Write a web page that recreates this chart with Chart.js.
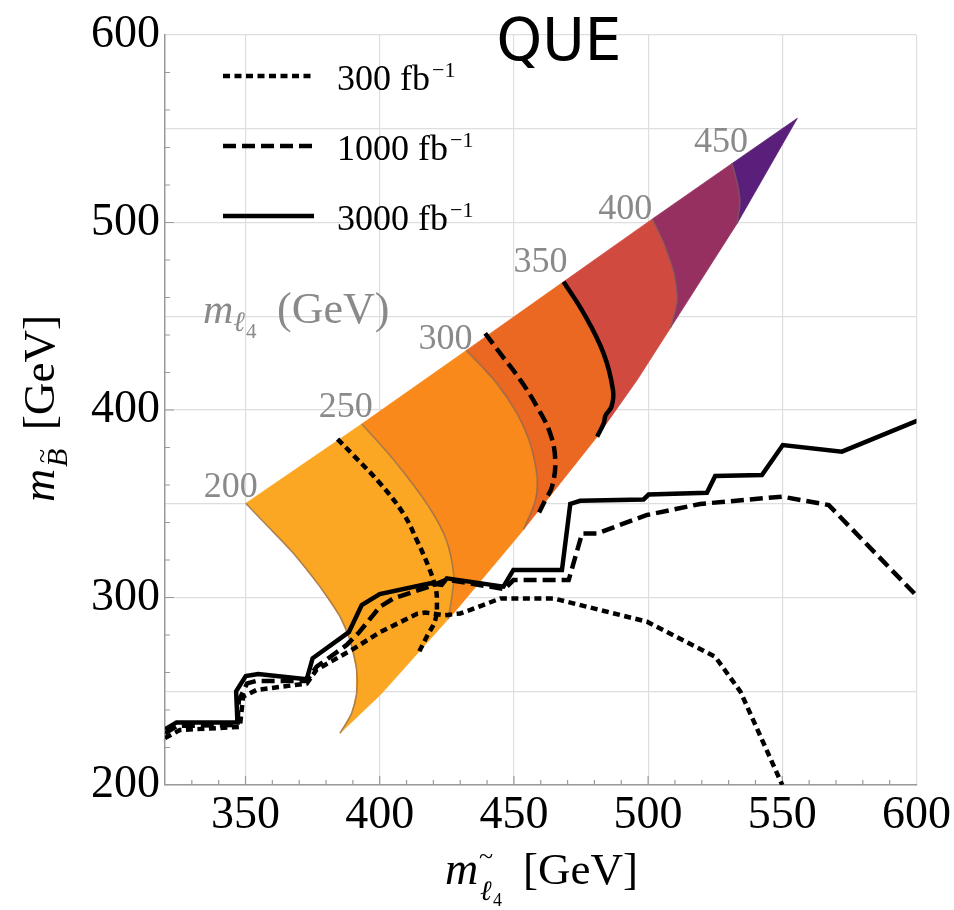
<!DOCTYPE html>
<html>
<head>
<meta charset="utf-8">
<title>QUE</title>
<script src="https://cdn.jsdelivr.net/npm/chart.js@4.4.1/dist/chart.umd.min.js"></script>
<style>
  html, body { margin: 0; padding: 0; background: #fff; }
  canvas { display: block; }
</style>
</head>
<body>
<canvas id="chart" width="954" height="910"></canvas>
<script>
// m_l4 value of each coloured band (lower bound)
const levels = [200, 250, 300, 350, 400, 450];
const bandColors = ['#FCA723', '#F8891A', '#EA6822', '#D04A3F', '#963060', '#5A1F7A'];

// band borders [m_sl4, m_B], from the upper edge down to the lower edge
const c200 = [[350.1, 350.2], [356, 341.3], [367.8, 323.6], [377.7, 305.8], [385.2, 289.8], [388.9, 277.3], [391.4, 261.3], [391.4, 248.9], [389.5, 238.2], [385.2, 227.6]];
const c250 = [[393.3, 392.5], [406, 372], [418.3, 348.4], [424.8, 330.7], [427.5, 312.8], [427, 302], [425.5, 288.5]];
const c300 = [[432.3, 431.8], [443.6, 414.2], [451.1, 398.2], [456, 382.2], [458.6, 364.4], [458, 352], [453.6, 336.3]];
const c350 = [[468.5, 468.4], [476, 451.6], [483.4, 430.2], [486.6, 412], [486, 401], [481, 385.8]];
const c400 = [[501.5, 501.8], [505.8, 488.9], [509.6, 472.9], [510.8, 458.7], [508.3, 443.7]];
const c450 = [[531.3, 531.5], [533.5, 519.1], [534.2, 510.2], [533.2, 499.6]];
// lower edge of the allowed region, up to the tip
const lowerEdge = [[385.2, 227.6], [400.5, 248.5], [427.5, 291.6], [452.3, 334], [481, 385.8], [495.9, 416], [533.2, 499.6], [555.6, 555.6]];

// exclusion limits per luminosity (fb^-1)
const lumis = [300, 1000, 3000];
const limit300 = [[320, 225], [325.5, 229.3], [347.9, 231], [349.1, 247.1], [354.1, 250.7], [372.8, 254.1], [376.5, 261.5], [390.1, 272.5], [400.1, 281.5], [413.8, 291.2], [417, 292], [424, 290.5], [430, 291.5], [434, 293.5], [445, 299.5], [464.8, 299.5], [499.6, 287.1], [525, 268.4], [534.4, 249.8], [550, 200]];
const limit1000 = [[320, 227.5], [324.5, 231.5], [347, 232], [347.5, 245], [350.6, 254.2], [354, 255.5], [372.8, 255.5], [376.5, 263.1], [387.7, 274.7], [392, 280.9], [400.1, 295.1], [405.1, 299.5], [418.8, 306], [425, 309.5], [446.5, 304.5], [449.8, 309.3], [470.4, 309.3], [475.4, 334.2], [481, 334.2], [499.6, 344], [519.4, 349.9], [549.9, 353.8], [567.3, 349.3], [600.4, 300.4]];
const limit3000 = [[320, 229.7], [324.3, 233.4], [347, 233.4], [346.5, 250], [350.1, 258.1], [354.7, 259.2], [372.8, 256.4], [375, 267.6], [388.5, 281.5], [393.3, 296], [400, 301.8], [418.8, 307.6], [423.1, 306.7], [425, 310.2], [446.1, 305.8], [449.8, 314.7], [467.9, 314.7], [471, 349.9], [474.7, 351.6], [498.3, 352.3], [500.2, 354.9], [521.9, 355.9], [525, 364.8], [542.4, 365.3], [550.2, 381.3], [572.2, 377.8], [600.4, 394.3]];
// the limits drawn across the coloured region
const band300 = [[384.3, 384.5], [390.1, 376], [400.1, 360.9], [408.8, 344.8], [413.8, 330.7], [418.2, 316.4], [420.7, 305.8], [421.3, 298.7], [420.7, 288], [417.5, 279.1], [414.4, 270.2]];
const band1000 = [[439.3, 440.9], [444.9, 430.2], [452.4, 416], [458.6, 401.8], [463.5, 387.6], [465.4, 373.3], [464.2, 359.1], [461.7, 352], [459.2, 344.8]];
const band3000 = [[468.5, 468.4], [476, 451.6], [483.4, 430.2], [486.9, 410.7], [486.4, 402], [484.1, 397], [483.5, 393], [481, 385.8]];

const serif = '"Liberation Serif", "Times New Roman", serif';
const gray = '#8a8a8a';
const dashes = [[7, 4.5], [13, 6], []];
const labelShift = [[12, -6], [11, -7], [6, -1], [4, -10], [0, 0], [16, -11]];

const contours = [c200, c250, c300, c350, c400, c450];
const toXY = arr => arr.map(p => ({x: p[0], y: p[1]}));

function bandPolygon(i) {
  const a = contours[i];
  const b = contours[i + 1];
  const x0 = a[a.length - 1][0];
  const x1 = b ? b[b.length - 1][0] : Infinity;
  const mid = lowerEdge.filter(p => p[0] > x0 + 0.05 && p[0] < x1 - 0.05);
  let pts = a.concat(mid);
  if (b) pts = pts.concat(b.slice().reverse());
  pts.push(a[0]);
  return toXY(pts);
}

const datasets = [];
levels.forEach((lv, i) => {
  datasets.push({
    label: 'band ' + lv, data: bandPolygon(i), showLine: true, fill: 'shape',
    backgroundColor: bandColors[i], borderColor: bandColors[i], borderWidth: 0.8,
    pointRadius: 0, tension: 0, order: 4
  });
});
contours.forEach((c, i) => {
  datasets.push({
    label: 'contour ' + levels[i], data: toXY(c), showLine: true, fill: false,
    borderColor: 'rgba(120,100,95,0.6)', borderWidth: 1.6, pointRadius: 0, tension: 0.4, order: 3
  });
});
[limit300, limit1000, limit3000].forEach((d, i) => {
  datasets.push({
    label: lumis[i] + ' fb-1', data: toXY(d), showLine: true, fill: false,
    borderColor: '#000', borderWidth: 4.5, borderDash: dashes[i], pointRadius: 0, tension: 0, order: 1
  });
});
[band300, band1000, band3000].forEach((d, i) => {
  datasets.push({
    label: lumis[i] + ' fb-1 (region)', data: toXY(d), showLine: true, fill: false,
    borderColor: '#000', borderWidth: 4.5, borderDash: dashes[i], pointRadius: 0, tension: 0.4, order: 1
  });
});

function txt(ctx, s, x, y, font, color, align) {
  ctx.font = font;
  ctx.fillStyle = color;
  ctx.textAlign = align || 'left';
  ctx.textBaseline = 'alphabetic';
  ctx.fillText(s, x, y);
  return ctx.measureText(s).width;
}

const axisMarks = {
  id: 'axisMarks',
  beforeDatasetsDraw(chart) {
    const {ctx, chartArea: a} = chart;
    const x = chart.scales.x, y = chart.scales.y;
    ctx.save();
    ctx.strokeStyle = '#9a9a9a';
    ctx.lineWidth = 1.2;
    ctx.beginPath();
    for (let v = 330; v < 600; v += 10) {
      const px = x.getPixelForValue(v);
      const len = v % 50 === 0 ? 9 : 5;
      ctx.moveTo(px, a.bottom);
      ctx.lineTo(px, a.bottom - len);
    }
    for (let v = 220; v < 600; v += 20) {
      const py = y.getPixelForValue(v);
      const len = v % 100 === 0 ? 9 : 5;
      ctx.moveTo(a.left, py);
      ctx.lineTo(a.left + len, py);
    }
    ctx.stroke();
    ctx.restore();
  }
};

const annotations = {
  id: 'annotations',
  afterDraw(chart) {
    const ctx = chart.ctx;
    const x = chart.scales.x, y = chart.scales.y;
    ctx.save();

    // title
    txt(ctx, 'QUE', 559, 60, '58px "DejaVu Sans", sans-serif', '#000', 'center');

    // level labels at the top of each band border
    levels.forEach((lv, i) => {
      const p = contours[i][0];
      txt(ctx, String(lv), x.getPixelForValue(p[0]) + labelShift[i][0],
        y.getPixelForValue(p[1]) + labelShift[i][1], '36px ' + serif, gray, 'right');
    });

    // m_l4 (GeV)
    let xx = 203;
    xx += txt(ctx, 'm', xx, 323, 'italic 42px ' + serif, gray);
    xx += txt(ctx, '\u2113', xx, 331, 'italic 28px ' + serif, gray);
    txt(ctx, '4', xx + 1, 338, '21px ' + serif, gray);
    txt(ctx, '(GeV)', 277, 323, '44px ' + serif, gray);

    // legend
    lumis.forEach((l, i) => {
      const yy = 76 + i * 70;
      ctx.setLineDash(dashes[i]);
      ctx.lineWidth = 4.5;
      ctx.strokeStyle = '#000';
      ctx.beginPath();
      ctx.moveTo(223, yy);
      ctx.lineTo(314, yy);
      ctx.stroke();
      ctx.setLineDash([]);
      const w = txt(ctx, l + ' fb', 337, yy + 14, '36px ' + serif, '#000');
      txt(ctx, '\u22121', 337 + w + 2, yy + 1, '22px ' + serif, '#000');
    });

    // x axis title
    txt(ctx, 'm', 445, 884, 'italic 46px ' + serif, '#000');
    txt(ctx, '\u2113', 480, 900, 'italic 28px ' + serif, '#000');
    txt(ctx, '4', 493, 906, '18px ' + serif, '#000');
    txt(ctx, '~', 486, 864, '26px ' + serif, '#000', 'center');
    txt(ctx, '[GeV]', 523, 884, '45px ' + serif, '#000');

    // y axis title
    ctx.translate(54, 502);
    ctx.rotate(-Math.PI / 2);
    txt(ctx, 'm', 0, 0, 'italic 46px ' + serif, '#000');
    txt(ctx, 'B', 35, 13, 'italic 30px ' + serif, '#000');
    txt(ctx, '~', 46, -4, '26px ' + serif, '#000', 'center');
    txt(ctx, '[GeV]', 72, 0, '45px ' + serif, '#000');

    ctx.restore();
  }
};

new Chart(document.getElementById('chart'), {
  type: 'scatter',
  data: {datasets: datasets},
  options: {
    responsive: false,
    animation: false,
    devicePixelRatio: 1,
    layout: {padding: {top: 35, right: 37, bottom: 0, left: 0}},
    plugins: {legend: {display: false}, tooltip: {enabled: false}},
    scales: {
      x: {
        type: 'linear', min: 320, max: 600,
        afterFit: s => { s.height = 125; },
        ticks: {
          stepSize: 10, autoSkip: false, maxRotation: 0, minRotation: 0, padding: 3,
          color: '#000', font: {family: serif, size: 46},
          callback: v => (v % 50 === 0 ? String(v) : '')
        },
        grid: {
          color: c => (c.tick && c.tick.value % 50 === 0 ? '#dedede' : 'rgba(0,0,0,0)'),
          lineWidth: 1.2, drawTicks: false
        },
        border: {color: '#9a9a9a', width: 1.5}
      },
      y: {
        type: 'linear', min: 200, max: 600,
        afterFit: s => { s.width = 165; },
        ticks: {
          stepSize: 10, autoSkip: false, padding: 5,
          color: '#000', font: {family: serif, size: 46},
          callback: v => (v % 100 === 0 ? String(v) : '')
        },
        grid: {
          color: c => (c.tick && c.tick.value % 50 === 0 ? '#dedede' : 'rgba(0,0,0,0)'),
          lineWidth: 1.2, drawTicks: false
        },
        border: {color: '#9a9a9a', width: 1.5}
      }
    }
  },
  plugins: [axisMarks, annotations]
});
</script>
</body>
</html>
